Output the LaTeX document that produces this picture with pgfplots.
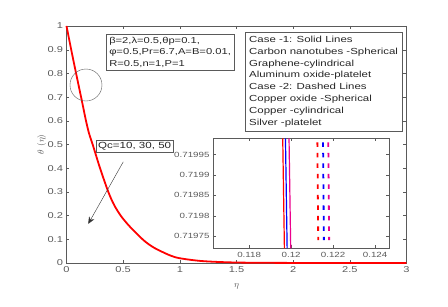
\documentclass[border=0pt]{standalone}
\usepackage{fontspec}
\setmainfont{Liberation Sans}[FakeStretch=1.3]
\usepackage{pgfplots}
\pgfplotsset{compat=1.18}
\usetikzlibrary{arrows.meta}
\definecolor{axgray}{RGB}{90,90,90}
\begin{document}
\begin{tikzpicture}
\path[use as bounding box] (-66.5pt,-44pt) rectangle (381.5pt,263pt);
\begin{axis}[name=main, scale only axis, width=340pt, height=237pt,
  xmin=0, xmax=3, ymin=0, ymax=1,
  xtick={0,0.5,1,1.5,2,2.5,3},
  ytick={0,0.1,0.2,0.3,0.4,0.5,0.6,0.7,0.8,0.9,1},
  tick align=inside, major tick length=3pt,
  axis line style={axgray}, tick style={axgray},
  /pgf/number format/assume math mode=true,
  tick label style={font=\fontsize{8.5}{10}\selectfont, text=axgray},
  xlabel={$\eta$}, ylabel={$\theta\ (\eta)$},
  label style={font=\fontsize{9.5}{10}\selectfont, text=axgray},
  xlabel style={at={(axis description cs:0.5,-0.101)}, anchor=center},
  ylabel style={at={(axis description cs:-0.073,0.5)}, anchor=center},
  clip=false]
\addplot[red, line width=1.8pt, smooth, tension=0.5] coordinates {
(0,1) (0.05,0.88) (0.1,0.765) (0.134,0.688) (0.172,0.60) (0.2,0.545) (0.231,0.50)
(0.296,0.40) (0.369,0.30) (0.42,0.245) (0.481,0.198) (0.56,0.153) (0.678,0.097)
(0.76,0.068) (0.84,0.048) (0.92,0.031) (1.0,0.02) (1.2,0.008) (1.5,0.002)
(2,0.0003) (2.5,0.0001) (3,0)};
\draw[axgray, thin] (axis cs:0.172,0.751) circle [radius=16pt];
\node[draw=axgray, fill=white, anchor=north west, align=left, inner sep=3pt,
  font=\fontsize{8.6}{11.3}\selectfont, text=black!85]
  at (axis cs:0.349,0.966) {β=2,λ=0.5,θp=0.1,\\φ=0.5,Pr=6.7,A=B=0.01,\\R=0.5,n=1,P=1};
\node[draw=axgray, fill=white, anchor=north west, align=left, inner sep=2pt,
  font=\fontsize{8.9}{10}\selectfont, text=black!85]
  at (axis cs:0.26,0.519) {Qc=10, 30, 50};
\draw[-{Stealth[length=7pt,width=6pt]}, black!80, thin] (axis cs:0.501,0.427) -- (axis cs:0.192,0.165);
\node[draw=axgray, fill=white, anchor=north west, align=left, inner sep=4pt,
  font=\fontsize{8.8}{11.8}\selectfont, text=black!85]
  at (axis cs:1.575,0.975) {Case -1: Solid Lines\\Carbon nanotubes -Spherical\\Graphene-cylindrical\\Aluminum oxide-platelet\\Case -2: Dashed Lines\\Copper oxide -Spherical\\Copper -cylindrical\\Silver -platelet};
\end{axis}
\begin{axis}[at={(146.5pt,14.7pt)}, anchor=south west, scale only axis,
  width=176pt, height=110pt,
  xmin=0.11628, xmax=0.12466, ymin=0.71972, ymax=0.71999,
  axis background/.style={fill=white},
  xtick={0.118,0.12,0.122,0.124}, xticklabels={0.118,0.12,0.122,0.124},
  ytick={0.71975,0.7198,0.71985,0.7199,0.71995},
  yticklabels={0.71975,0.7198,0.71985,0.7199,0.71995},
  scaled ticks=false,
  tick align=inside, major tick length=3pt,
  axis line style={axgray}, tick style={axgray},
  tick label style={font=\fontsize{7.5}{8}\selectfont, text=axgray}]
\addplot[red, line width=1.2pt] coordinates {(0.11960,0.71999) (0.11968,0.71972)};
\addplot[blue, line width=1.2pt] coordinates {(0.11973,0.71999) (0.11981,0.71972)};
\addplot[magenta, line width=1.2pt] coordinates {(0.11990,0.71999) (0.11998,0.71972)};
\addplot[red, line width=1.8pt, dash pattern=on 4.5pt off 6pt] coordinates {(0.12125,0.71998) (0.12129,0.71974)};
\addplot[blue, line width=1.8pt, dash pattern=on 4.5pt off 6pt] coordinates {(0.12152,0.71998) (0.12156,0.71974)};
\addplot[magenta, line width=1.8pt, dash pattern=on 4.5pt off 6pt] coordinates {(0.12177,0.71998) (0.12181,0.71974)};
\end{axis}
\end{tikzpicture}
\end{document}
